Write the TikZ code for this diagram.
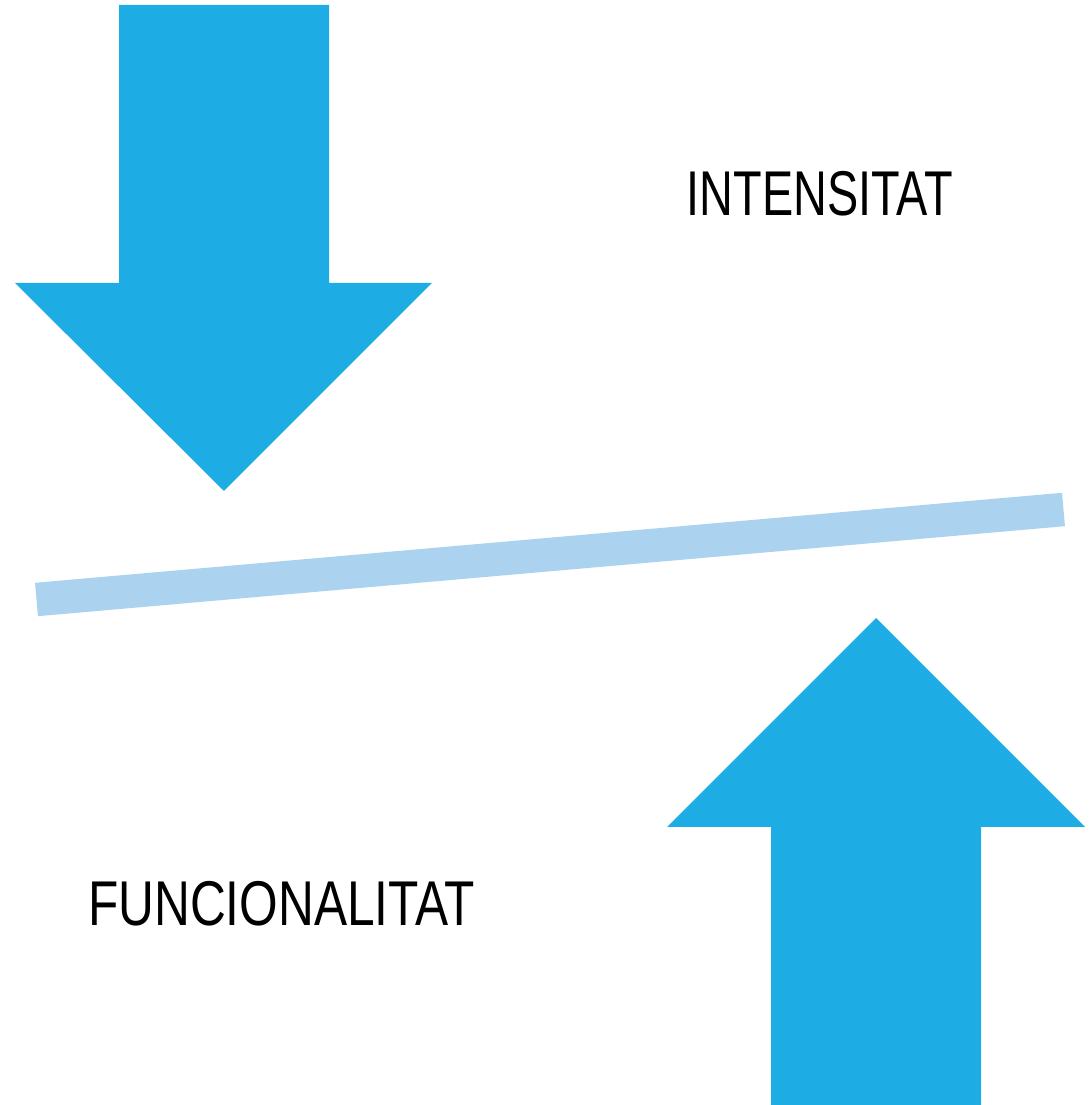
\documentclass[tikz,border=0pt]{standalone}
\usepackage{fontspec}
\newfontfamily\labelfont[FakeStretch=0.74]{Liberation Sans}
\usepackage{tikz}
\usetikzlibrary{calc}
\definecolor{arrowblue}{HTML}{1DADE4}
\definecolor{barblue}{HTML}{ABD3EF}
\begin{document}
\begin{tikzpicture}
    \useasboundingbox (0,0) rectangle(10.89,11.05);
    % top arrow
    \fill[arrowblue] (1.19,11.00) -- (3.29,11.00) -- (3.29,8.22) -- (4.32,8.22) -- (2.24,6.14) -- (0.15,8.22) -- (1.19,8.22) -- cycle;
    % bottom arrow
    \fill[arrowblue] (7.71,0) -- (9.81,0) -- (9.81,2.78) -- (10.85,2.78) -- (8.76,4.87) -- (6.67,2.78) -- (7.71,2.78) -- cycle;
    % bar
    \coordinate (barL) at (0.365,5.055);
    \coordinate (barR) at (10.635,5.955);
    \draw[barblue,line width=0.335cm] (barL) -- (barR);
    \node[font=\labelfont\fontsize{18}{20}\selectfont,inner sep=0] (intens) at (8.20,9.11) {INTENSITAT};
    \node[font=\labelfont\fontsize{18}{20}\selectfont,inner sep=0] (func) at (2.815,2.01) {\scalebox{1.06}[1]{FUNCIONALITAT}};
  \end{tikzpicture}
\end{document}
